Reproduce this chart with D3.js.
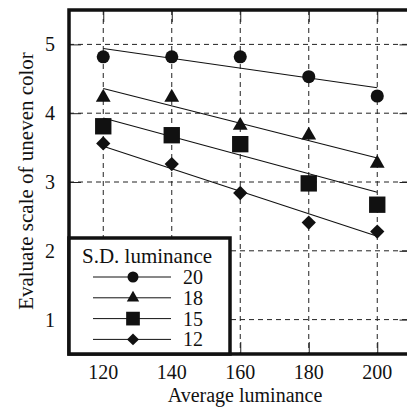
<!DOCTYPE html>
<html>
<head>
<meta charset="utf-8">
<script src="https://cdn.jsdelivr.net/npm/d3@7"></script>
<style>
  body { margin: 0; background: #fff; }
</style>
</head>
<body>
<script>
// data
var avgLum = [120, 140, 160, 180, 200];
var sdLevels = ["20", "18", "15", "12"];
var shapes = ["circle", "triangle", "square", "diamond"];
var score20 = [4.82, 4.82, 4.82, 4.53, 4.25];
var score18 = [4.23, 4.23, 3.82, 3.68, 3.27];
var score15 = [3.81, 3.68, 3.55, 2.98, 2.67];
var score12 = [3.56, 3.26, 2.84, 2.41, 2.28];
// fitted lines (value at 120 and at 200)
var fit20 = [4.94, 4.37];
var fit18 = [4.36, 3.35];
var fit15 = [3.93, 2.85];
var fit12 = [3.52, 2.21];
var xTicks = [120, 140, 160, 180, 200];
var yTicks = [1, 2, 3, 4, 5];

(function() {
  var series = [
    { name: sdLevels[0], shape: shapes[0], values: score20, fit: fit20 },
    { name: sdLevels[1], shape: shapes[1], values: score18, fit: fit18 },
    { name: sdLevels[2], shape: shapes[2], values: score15, fit: fit15 },
    { name: sdLevels[3], shape: shapes[3], values: score12, fit: fit12 }
  ];

  var width = 407, height = 408;
  var left = 69, plotTop = 10, bottom = 354;

  var svg = d3.select("body").append("svg")
    .attr("width", width)
    .attr("height", height);

  // serif text helper
  function label(sel, size) {
    return sel.attr("font-family", "Liberation Serif")
      .style("font-family", "'Liberation Serif'")
      .attr("font-size", size)
      .attr("fill", "#111");
  }

  var x = d3.scaleLinear().domain([110, 210]).range([left, left + 342.5]);
  var y = d3.scaleLinear().domain([0.5, 5.5]).range([bottom, plotTop]);

  var symbolFor = {
    circle: d3.symbolCircle,
    triangle: d3.symbolTriangle,
    square: d3.symbolSquare,
    diamond: d3.symbolDiamond2 || d3.symbolDiamond
  };
  var sizeFor = { circle: 135, triangle: 95, square: 268, diamond: 130 };

  // dashed grid
  var grid = svg.append("g").attr("stroke", "#222").attr("stroke-width", 1)
    .attr("stroke-dasharray", "5,4");
  grid.selectAll(".vg").data(xTicks).enter().append("line")
    .attr("x1", d => x(d)).attr("x2", d => x(d))
    .attr("y1", plotTop).attr("y2", bottom);
  grid.selectAll(".hg").data(yTicks).enter().append("line")
    .attr("x1", left).attr("x2", width + 10)
    .attr("y1", d => y(d)).attr("y2", d => y(d));

  // inner ticks on every side
  var tickLen = 12;
  var ticks = svg.append("g");
  [d3.axisBottom(x), d3.axisTop(x)].forEach(function(ax, i) {
    ticks.append("g")
      .attr("transform", "translate(0," + (i === 0 ? plotTop : bottom) + ")")
      .call(ax.tickValues(xTicks).tickSizeInner(tickLen).tickSizeOuter(0).tickFormat(""))
      .call(g => g.select(".domain").remove())
      .selectAll("line").attr("stroke", "#222");
  });
  [d3.axisRight(y), d3.axisLeft(y)].forEach(function(ax, i) {
    ticks.append("g")
      .attr("transform", "translate(" + (i === 0 ? left : x(210)) + ",0)")
      .call(ax.tickValues(yTicks).tickSizeInner(tickLen).tickSizeOuter(0).tickFormat(""))
      .call(g => g.select(".domain").remove())
      .selectAll("line").attr("stroke", "#222");
  });

  // fit lines
  svg.append("g").selectAll("line").data(series).enter().append("line")
    .attr("x1", x(avgLum[0])).attr("x2", x(avgLum[avgLum.length - 1]))
    .attr("y1", d => y(d.fit[0])).attr("y2", d => y(d.fit[1]))
    .attr("stroke", "#111").attr("stroke-width", 1.1);

  // markers
  series.forEach(function(s) {
    svg.append("g").selectAll("path").data(s.values).enter().append("path")
      .attr("d", d3.symbol().type(symbolFor[s.shape]).size(sizeFor[s.shape]))
      .attr("transform", (d, i) => "translate(" + x(avgLum[i]) + "," + y(d) + ")")
      .attr("fill", "#111");
  });

  // frame
  svg.append("rect")
    .attr("x", left).attr("y", plotTop)
    .attr("width", x(210) - left).attr("height", bottom - plotTop)
    .attr("fill", "none").attr("stroke", "#111").attr("stroke-width", 3.5);

  // tick labels
  svg.append("g").selectAll("text").data(xTicks).enter().append("text")
    .attr("x", d => x(d)).attr("y", 379)
    .attr("text-anchor", "middle")
    .call(label, 20)
    .text(d => d);
  svg.append("g").selectAll("text").data(yTicks).enter().append("text")
    .attr("x", 55).attr("y", d => y(d) + 7)
    .attr("text-anchor", "end")
    .call(label, 20)
    .text(d => d);

  // axis titles
  svg.append("text")
    .attr("x", 245).attr("y", 402)
    .attr("text-anchor", "middle")
    .call(label, 20)
    .text("Average luminance");
  svg.append("text")
    .attr("transform", "translate(33,181) rotate(-90)")
    .attr("text-anchor", "middle")
    .call(label, 21)
    .text("Evaluate scale of uneven color");

  // legend
  var lg = svg.append("g");
  lg.append("rect")
    .attr("x", left).attr("y", 238)
    .attr("width", 161).attr("height", bottom - 238)
    .attr("fill", "#fff").attr("stroke", "#111").attr("stroke-width", 3.5);
  lg.append("text")
    .attr("x", 147).attr("y", 263)
    .attr("text-anchor", "middle")
    .call(label, 21)
    .text("S.D. luminance");
  var rows = lg.selectAll(".row").data(series).enter().append("g")
    .attr("transform", (d, i) => "translate(0," + (277 + i * 20.8) + ")");
  rows.append("line")
    .attr("x1", 93).attr("x2", 171)
    .attr("stroke", "#111").attr("stroke-width", 1);
  rows.append("path")
    .attr("d", d => d3.symbol().type(symbolFor[d.shape]).size(sizeFor[d.shape] * 0.7)())
    .attr("transform", "translate(133,0)")
    .attr("fill", "#111");
  rows.append("text")
    .attr("x", 203).attr("y", 7)
    .attr("text-anchor", "end")
    .call(label, 20)
    .text(d => d.name);
})();
</script>
</body>
</html>
